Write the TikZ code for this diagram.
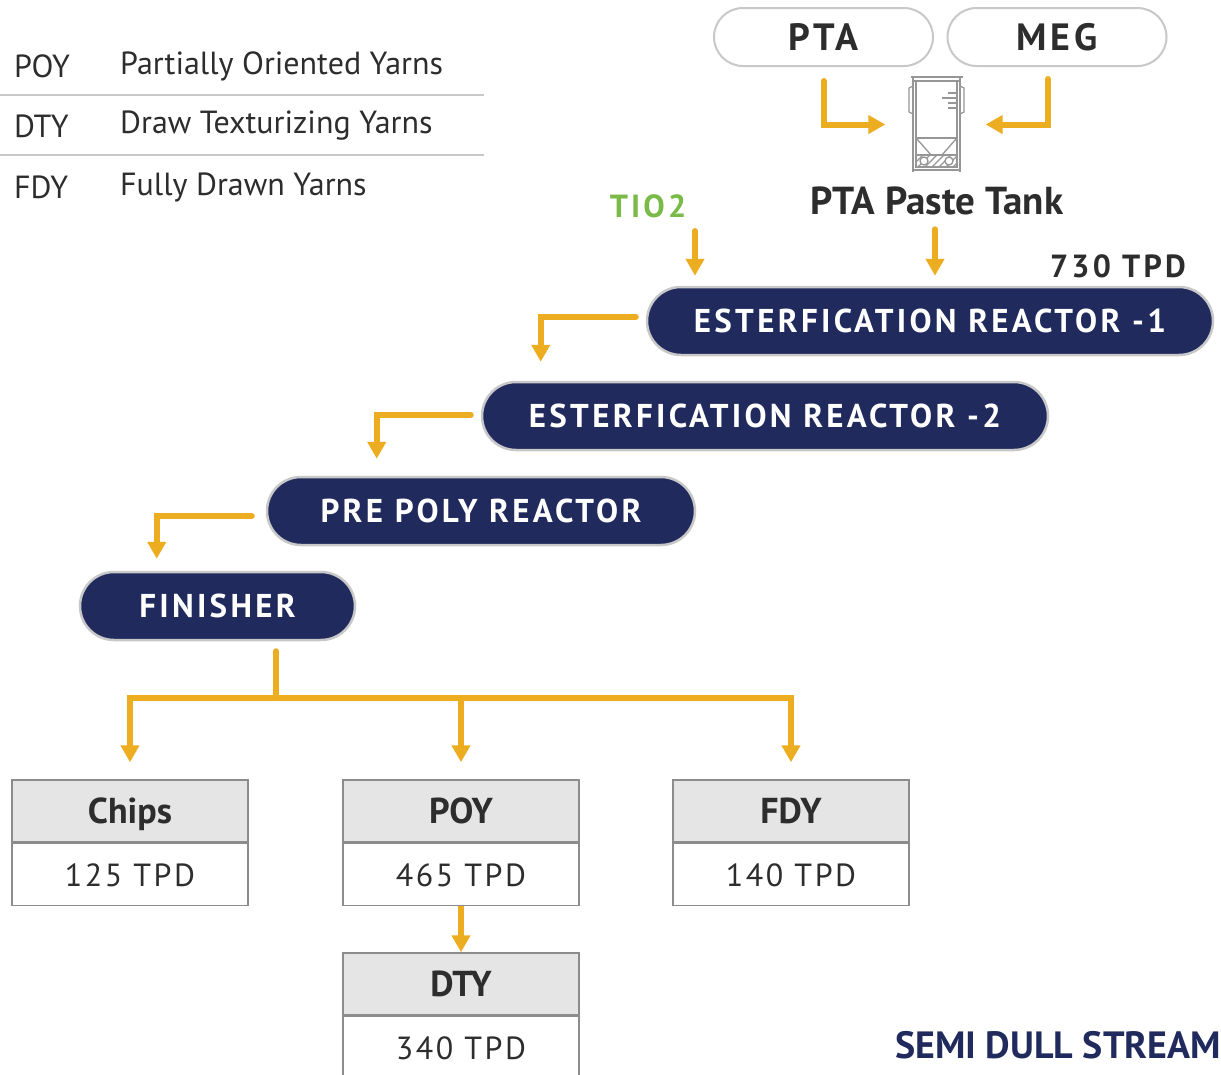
\documentclass[tikz,border=0pt]{standalone}
\usepackage{fontspec}
\setmainfont{PT Sans}
\newfontfamily\trackfont[LetterSpace=10]{PT Sans}
\newfontfamily\valfont[LetterSpace=8]{PT Sans}
\usepackage{xcolor}
\usetikzlibrary{arrows.meta}
\definecolor{reactornavy}{RGB}{32, 42, 93}
\definecolor{flowyellow}{RGB}{237, 173, 33}
\definecolor{tiogreen}{RGB}{122, 186, 72}
\definecolor{inkgray}{RGB}{45, 45, 45}
\definecolor{pillgray}{RGB}{200, 200, 200}
\definecolor{boxgray}{RGB}{140, 140, 140}
\definecolor{headgray}{RGB}{229, 229, 229}
\definecolor{tankgray}{RGB}{150, 150, 150}

\tikzset{
  flow/.style={draw=flowyellow, line width=6pt, line cap=round, -{Triangle[length=17pt,width=18pt]}},
  flowline/.style={draw=flowyellow, line width=6pt, line cap=round},
  feedpill/.style={draw=pillgray, line width=2pt, fill=white, rounded corners=29pt, minimum width=219pt, minimum height=58pt, inner sep=0pt, text=inkgray, font=\trackfont\bfseries\fontsize{38}{40}\selectfont},
  reactor/.style={draw=pillgray, line width=2.5pt, fill=reactornavy, rounded corners=34pt, minimum height=68pt, inner sep=0pt, text=white, font=\trackfont\bfseries\fontsize{33}{36}\selectfont},
  prodhead/.style={draw=boxgray, line width=1.5pt, fill=headgray, minimum width=236pt, minimum height=62pt, inner sep=0pt, text height=25pt, text depth=0pt, text=inkgray, font=\bfseries\fontsize{36}{40}\selectfont},
  prodval/.style={draw=boxgray, line width=1.5pt, fill=white, minimum width=236pt, minimum height=62pt, inner sep=0pt, text height=23pt, text depth=0pt, text=inkgray, font=\valfont\fontsize{32}{38}\selectfont},
  legendtext/.style={anchor=west, inner sep=0pt, text=inkgray, font=\fontsize{32}{36}\selectfont}
}

\begin{document}
\begin{tikzpicture}[x=1pt, y=-1pt]
\useasboundingbox (0,0) rectangle (1221,1074);
\fill[white] (0,0) rectangle (1221,1074);

% legend
\node[legendtext] (lgpoy) at (14,66) {POY};
\node[legendtext] (lgpoytext) at (120,66) {Partially Oriented Yarns};
\node[legendtext] (lgdty) at (14,126) {DTY};
\node[legendtext] (lgdtytext) at (120,126) {Draw Texturizing Yarns};
\node[legendtext] (lgfdy) at (14,187) {FDY};
\node[legendtext] (lgfdytext) at (120,187) {Fully Drawn Yarns};
\draw[draw=pillgray, line width=1.5pt] (0,95) -- (484,95);
\draw[draw=pillgray, line width=1.5pt] (0,155) -- (484,155);

% raw materials
\node[feedpill] (pta) at (823.5,37) {PTA};
\node[feedpill] (meg) at (1057,37) {MEG};

% paste tank icon
\node[minimum width=54pt, minimum height=96pt, inner sep=0pt] (tank) at (936.5,124.5) {};
\begin{scope}[draw=tankgray, line width=1.3pt]
\draw (911,77) -- (963,77);
\draw (913,77) -- (913,172);
\draw (960,77) -- (960,172);
\draw (916,81) -- (916,167);
\draw (957,81) -- (957,167);
\draw (913,81) -- (960,81);
\draw (913,86) -- (909,88) -- (909,112) -- (913,114);
\draw (960,86) -- (964,88) -- (964,112) -- (960,114);
\draw (916,138) -- (957,138);
\draw (917,139) -- (931,155);
\draw (956,139) -- (942,155);
\draw (948,93) -- (957,93);
\draw (942,98) -- (957,98);
\draw (948,103) -- (957,103);
\draw (948,108) -- (957,108);
\draw (916,155) rectangle (957,167);
\begin{scope}
\clip (916,155) rectangle (957,167);
\foreach \hx in {904,911,...,960} {
  \draw (\hx,167) -- (\hx+12,155);
}
\end{scope}
\filldraw[fill=white] (924,161) circle (4pt);
\filldraw[fill=white] (949,161) circle (4pt);
\draw (913,170) -- (960,170);
\end{scope}

\draw[flow] ([yshift=-14pt]pta.south) |- ([xshift=-24pt]tank.west);
\draw[flow] ([xshift=-9pt,yshift=-12pt]meg.south) |- ([xshift=22pt]tank.east);

\node[text=inkgray, font=\bfseries\fontsize{39}{42}\selectfont, inner sep=0pt] (pastelabel) at (937,201) {PTA Paste Tank};
\node[text=tiogreen, font=\trackfont\bfseries\fontsize{32}{36}\selectfont, inner sep=0pt] (tio) at (648,206) {TIO2};
\node[text=inkgray, font=\trackfont\bfseries\fontsize{32}{34}\selectfont, anchor=east, inner sep=0pt] (capacity) at (1186,266) {730 TPD};

% reactors
\node[reactor, minimum width=566pt] (reactorone) at (930,321) {ESTERFICATION REACTOR -1};
\node[reactor, minimum width=566pt] (reactortwo) at (765,416) {ESTERFICATION REACTOR -2};
\node[reactor, minimum width=428pt] (prepoly) at (481,511) {PRE POLY REACTOR};
\node[reactor, minimum width=275pt] (finisher) at (217.5,606) {FINISHER};

\coordinate (tioin) at (695,231);
\draw[flow, shorten >=10pt] (tioin) -- (tioin |- reactorone.north);
\draw[flow, shorten >=10pt] ([yshift=-14pt]pastelabel.south -| 935,0) -- (935,0 |- reactorone.north);

\draw[flow] ([xshift=-10pt,yshift=4pt]reactorone.west) -| ([xshift=60pt,yshift=19pt]reactortwo.north west);
\draw[flow] ([xshift=-10pt,yshift=1pt]reactortwo.west) -| ([xshift=111pt,yshift=17pt]prepoly.north west);
\draw[flow] ([xshift=-14pt,yshift=-5pt]prepoly.west) -| ([xshift=78pt,yshift=12pt]finisher.north west);

% products
\node[prodhead] (chipshead) at (130,811) {Chips};
\node[prodval, anchor=north] (chipsval) at (chipshead.south) {125 TPD};
\node[prodhead] (poyhead) at (461,811) {POY};
\node[prodval, anchor=north] (poyval) at (poyhead.south) {465 TPD};
\node[prodhead] (fdyhead) at (791,811) {FDY};
\node[prodval, anchor=north] (fdyval) at (fdyhead.south) {140 TPD};
\node[prodhead] (dtyhead) at (461,984) {DTY};
\node[prodval, anchor=north] (dtyval) at (dtyhead.south) {340 TPD};

\coordinate (split) at (276,698);
\draw[flowline] ([xshift=58.5pt,yshift=-10pt]finisher.south) -- (split);
\draw[flow, shorten >=17pt] (split) -| (chipshead.north);
\draw[flow, shorten >=17pt] (split) -| (poyhead.north);
\draw[flow, shorten >=17pt] (split) -| (fdyhead.north);
\draw[flow, line cap=butt] (poyval.south) -- (dtyhead.north);

\node[text=reactornavy, font=\bfseries\fontsize{38}{42}\selectfont, anchor=east, inner sep=0pt] (stream) at (1221,1045) {SEMI DULL STREAM};
\end{tikzpicture}
\end{document}
